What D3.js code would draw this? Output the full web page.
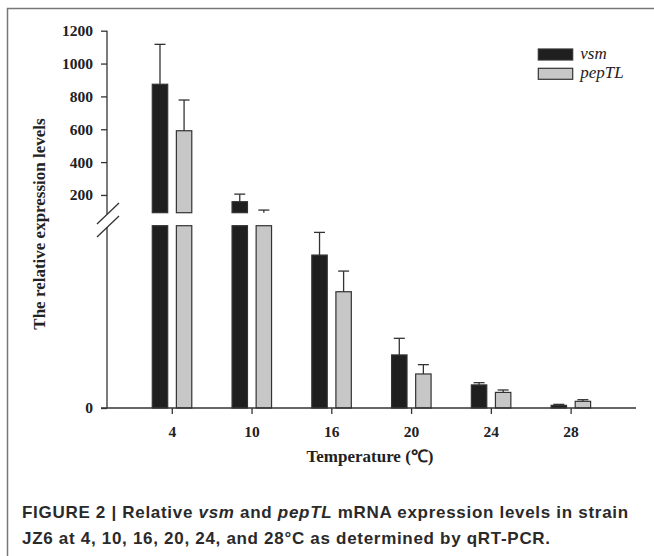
<!DOCTYPE html>
<html>
<head>
<meta charset="utf-8">
<script src="https://cdn.jsdelivr.net/npm/d3@7"></script>
<style>
  body { margin: 0; background: #fff; }
  svg { display: block; }
</style>
</head>
<body>
<div id="chart"></div>
<script>
// data
var temps = ["4", "10", "16", "20", "24", "28"];
var series = ["vsm", "pepTL"];
var vsm = [874, 159, 75.5, 26.2, 11.4, 1.3];
var vsmSd = [243, 46, 11.2, 8.2, 1.1, 0.5];
var pepTL = [591, 92, 57.4, 16.8, 7.7, 3.3];
var pepTLSd = [187, 16, 10.2, 4.6, 1.2, 0.8];
var upperTicks = [200, 400, 600, 800, 1000, 1200];
var lowerTicks = [0];

var width = 654, height = 556;
var serif = "'Liberation Serif', 'Times New Roman', serif";
var sans = "'Liberation Sans', Arial, sans-serif";

var svg = d3.select("#chart").append("svg")
  .attr("width", width)
  .attr("height", height);

svg.append("rect").attr("width", width).attr("height", height).attr("fill", "#fff");

// figure frame (top and left edges only)
svg.append("path")
  .attr("d", "M7.5,556 V8.5 H654")
  .attr("fill", "none")
  .attr("stroke", "#777")
  .attr("stroke-width", 1.5);

// broken y scale: upper segment and lower segment
var yUp = d3.scaleLinear().domain([92, 1200]).range([212.7, 30.7]);
var yLow = d3.scaleLinear().domain([0, 90]).range([408, 225.7]);
var axisX = 107;

var x = d3.scaleBand().domain(temps).range([132.4, 611]);
var xs = d3.scaleBand().domain(series).range([-20, 19.5]).paddingInner(0.36);

var rows = temps.map(function(t, i) {
  return [
    {t: t, s: "vsm", v: vsm[i], sd: vsmSd[i]},
    {t: t, s: "pepTL", v: pepTL[i], sd: pepTLSd[i]}
  ];
});
var flat = [].concat.apply([], rows);
var fills = {vsm: "#1f1f1f", pepTL: "#c7c7c7"};
var axisColor = "#333";

var g = svg.append("g");
var cx = function(d) { return x(d.t) + x.bandwidth() / 2; };

// lower bar pieces
g.selectAll("rect.low").data(flat).enter().append("rect")
  .attr("class", "low")
  .attr("x", function(d) { return cx(d) + xs(d.s); })
  .attr("width", xs.bandwidth())
  .attr("y", function(d) { return yLow(Math.min(d.v, yLow.domain()[1])); })
  .attr("height", function(d) { return yLow(0) - yLow(Math.min(d.v, yLow.domain()[1])); })
  .attr("fill", function(d) { return fills[d.s]; })
  .attr("stroke", axisColor)
  .attr("stroke-width", 1.2);

// upper bar pieces
var upperData = flat.filter(function(d) { return d.v > yUp.domain()[0]; });
g.selectAll("rect.up").data(upperData).enter().append("rect")
  .attr("class", "up")
  .attr("x", function(d) { return cx(d) + xs(d.s); })
  .attr("width", xs.bandwidth())
  .attr("y", function(d) { return yUp(d.v); })
  .attr("height", function(d) { return yUp(yUp.domain()[0]) - yUp(d.v); })
  .attr("fill", function(d) { return fills[d.s]; })
  .attr("stroke", axisColor)
  .attr("stroke-width", 1.2);

// error bars
var errY = function(d, val) {
  return d.v >= yUp.domain()[0] ? yUp(val) : yLow(val);
};
var err = g.selectAll("g.err").data(flat).enter().append("g")
  .attr("class", "err")
  .attr("stroke", axisColor)
  .attr("stroke-width", 1.3);
err.append("line")
  .attr("x1", function(d) { return cx(d) + xs(d.s) + xs.bandwidth() / 2; })
  .attr("x2", function(d) { return cx(d) + xs(d.s) + xs.bandwidth() / 2; })
  .attr("y1", function(d) { return errY(d, d.v); })
  .attr("y2", function(d) { return errY(d, d.v + d.sd); });
err.append("line")
  .attr("x1", function(d) { return cx(d) + xs(d.s) + xs.bandwidth() / 2 - 5.5; })
  .attr("x2", function(d) { return cx(d) + xs(d.s) + xs.bandwidth() / 2 + 5.5; })
  .attr("y1", function(d) { return errY(d, d.v + d.sd); })
  .attr("y2", function(d) { return errY(d, d.v + d.sd); });

// Y axes
var upAxis = svg.append("g")
  .attr("transform", "translate(" + axisX + ",0)")
  .call(d3.axisLeft(yUp).tickValues(upperTicks).tickFormat(d3.format("d"))
    .tickSize(6).tickSizeOuter(0).tickPadding(8));
var lowAxis = svg.append("g")
  .attr("transform", "translate(" + axisX + ",0)")
  .call(d3.axisLeft(yLow).tickValues(lowerTicks).tickFormat(d3.format("d"))
    .tickSize(6).tickSizeOuter(0).tickPadding(8));
[upAxis, lowAxis].forEach(function(a) {
  a.selectAll("path, line").attr("stroke", axisColor).attr("stroke-width", 1.3);
  a.selectAll("text")
    .attr("fill", "#222")
    .style("font-family", serif)
    .style("font-weight", "bold")
    .style("font-size", "15.5px");
});
lowAxis.select(".domain").remove();
lowAxis.append("line")
  .attr("x1", 0).attr("x2", 0)
  .attr("y1", yLow(0)).attr("y2", 227)
  .attr("stroke", axisColor).attr("stroke-width", 1.3);
upAxis.select(".domain").remove();
upAxis.append("line")
  .attr("x1", 0).attr("x2", 0)
  .attr("y1", yUp(1200)).attr("y2", 214)
  .attr("stroke", axisColor).attr("stroke-width", 1.3);

// break marks
svg.selectAll("line.brk").data([0, 13]).enter().append("line")
  .attr("class", "brk")
  .attr("x1", 97).attr("y1", function(d) { return 224 + d; })
  .attr("x2", 119).attr("y2", function(d) { return 203 + d; })
  .attr("stroke", axisColor).attr("stroke-width", 1.3);

// X axis
var xAxis = svg.append("g")
  .attr("transform", "translate(0," + yLow(0) + ")")
  .call(d3.axisBottom(x).tickSize(6).tickSizeOuter(0));
xAxis.select(".domain").remove();
xAxis.append("line")
  .attr("x1", 101).attr("x2", 636)
  .attr("stroke", axisColor).attr("stroke-width", 1.3);
xAxis.selectAll("line").attr("stroke", axisColor).attr("stroke-width", 1.3);
xAxis.selectAll("text")
  .attr("y", 29)
  .attr("dy", 0)
  .attr("fill", "#222")
  .style("font-family", serif)
  .style("font-weight", "bold")
  .style("font-size", "15.5px");

// axis titles
svg.append("text")
  .attr("transform", "translate(45,224) rotate(-90)")
  .attr("text-anchor", "middle")
  .attr("fill", "#222")
  .style("font-family", serif)
  .style("font-weight", "bold")
  .style("font-size", "17px")
  .text("The relative expression levels");

svg.append("text")
  .attr("x", 370).attr("y", 462)
  .attr("text-anchor", "middle")
  .attr("fill", "#222")
  .style("font-family", serif)
  .style("font-weight", "bold")
  .style("font-size", "17px")
  .text("Temperature (\u2103)");

// legend
var legend = svg.selectAll("g.leg").data(series).enter().append("g")
  .attr("class", "leg")
  .attr("transform", function(d, i) { return "translate(538.3," + (49 + i * 19.3) + ")"; });
legend.append("rect")
  .attr("width", 34.4).attr("height", 11)
  .attr("fill", function(d) { return fills[d]; })
  .attr("stroke", axisColor).attr("stroke-width", 1.2);
legend.append("text")
  .attr("x", 42).attr("y", 9.5)
  .attr("fill", "#222")
  .style("font-family", serif)
  .style("font-style", "italic")
  .style("font-size", "17px")
  .text(function(d) { return d; });

// caption
var capStyle = function(sel) {
  sel.attr("fill", "#2a2a2a")
    .style("font-family", sans)
    .style("font-weight", "bold")
    .style("font-size", "17px")
    .style("letter-spacing", "0.7px");
};
var cap1 = svg.append("text")
  .attr("x", 22).attr("y", 517.5)
  .call(capStyle);
cap1.append("tspan").text("FIGURE 2 | Relative ");
cap1.append("tspan").style("font-style", "italic").text("vsm");
cap1.append("tspan").text(" and ");
cap1.append("tspan").style("font-style", "italic").text("pepTL");
cap1.append("tspan").text(" mRNA expression levels in strain");

svg.append("text")
  .attr("x", 22).attr("y", 543.5)
  .call(capStyle)
  .text("JZ6 at 4, 10, 16, 20, 24, and 28\u00B0C as determined by qRT-PCR.");
</script>
</body>
</html>
